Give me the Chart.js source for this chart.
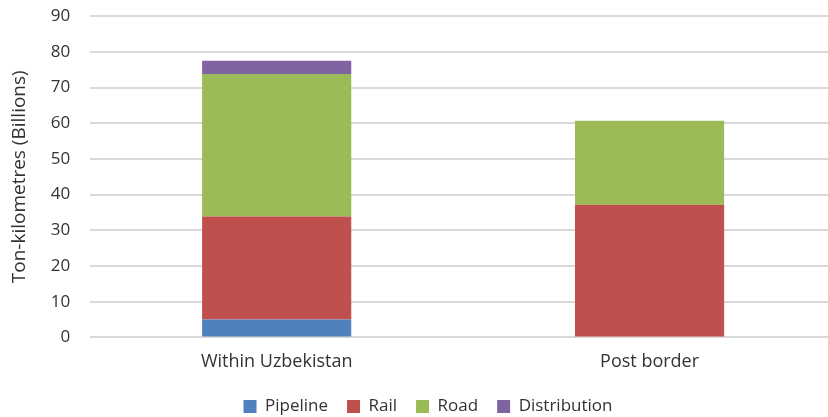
<!DOCTYPE html>
<html>
<head>
<meta charset="utf-8">
<script src="https://cdn.jsdelivr.net/npm/chart.js@4/dist/chart.umd.min.js"></script>
<style>
  html, body { margin: 0; padding: 0; background: #fff; overflow: hidden; }
  #wrap { position: relative; top: -14px; width: 836px; height: 431px; }
</style>
</head>
<body>
<div id="wrap"><canvas id="c"></canvas></div>
<script>
// Freight transport work, billions of ton-kilometres
const categories = ['Within Uzbekistan', 'Post border'];
const pipeline = [5.0, 0];
const rail = [28.9, 37.2];
const road = [39.9, 23.5];
const distribution = [3.7, 0];
const yTicks = [0, 10, 20, 30, 40, 50, 60, 70, 80, 90];

const family = "'Open Sans', sans-serif";
const font = { family: family, size: 17 };
const textColor = '#333333';

// Nudge the legend row a little to the right of the canvas centre
const legendShift = {
  id: 'legendShift',
  afterLayout(chart) {
    const lg = chart.legend;
    if (lg) { lg.left += 9; lg.right += 9; }
  }
};

new Chart(document.getElementById('c'), {
  type: 'bar',
  data: {
    labels: categories,
    datasets: [
      { label: 'Pipeline', data: pipeline, backgroundColor: '#4F81BD' },
      { label: 'Rail', data: rail, backgroundColor: '#C0504D' },
      { label: 'Road', data: road, backgroundColor: '#9BBB59' },
      { label: 'Distribution', data: distribution, backgroundColor: '#8064A2' }
    ]
  },
  plugins: [legendShift],
  options: {
    responsive: true,
    maintainAspectRatio: false,
    animation: false,
    datasets: { bar: { barPercentage: 0.4, categoryPercentage: 1.0 } },
    layout: { padding: { top: 0, right: 0, bottom: -8, left: 2 } },
    plugins: {
      tooltip: { enabled: false },
      legend: {
        position: 'bottom',
        labels: {
          font: font,
          color: textColor,
          boxWidth: 13,
          boxHeight: 13,
          padding: 19
        }
      }
    },
    scales: {
      x: {
        stacked: true,
        grid: { display: false },
        border: { display: false },
        ticks: { font: { family: family, size: 18 }, color: textColor, padding: 6 }
      },
      y: {
        stacked: true,
        min: 0,
        max: 90,
        afterBuildTicks: (axis) => { axis.ticks = yTicks.map(v => ({ value: v })); },
        grid: { color: '#d9d9d9', lineWidth: 2, drawTicks: false },
        border: { display: false },
        ticks: { font: font, color: textColor, padding: 20 },
        title: {
          display: true,
          text: 'Ton-kilometres (Billions)',
          font: { family: family, size: 19 },
          color: textColor,
          padding: { top: 6, bottom: 0 }
        }
      }
    }
  }
});
</script>
</body>
</html>
